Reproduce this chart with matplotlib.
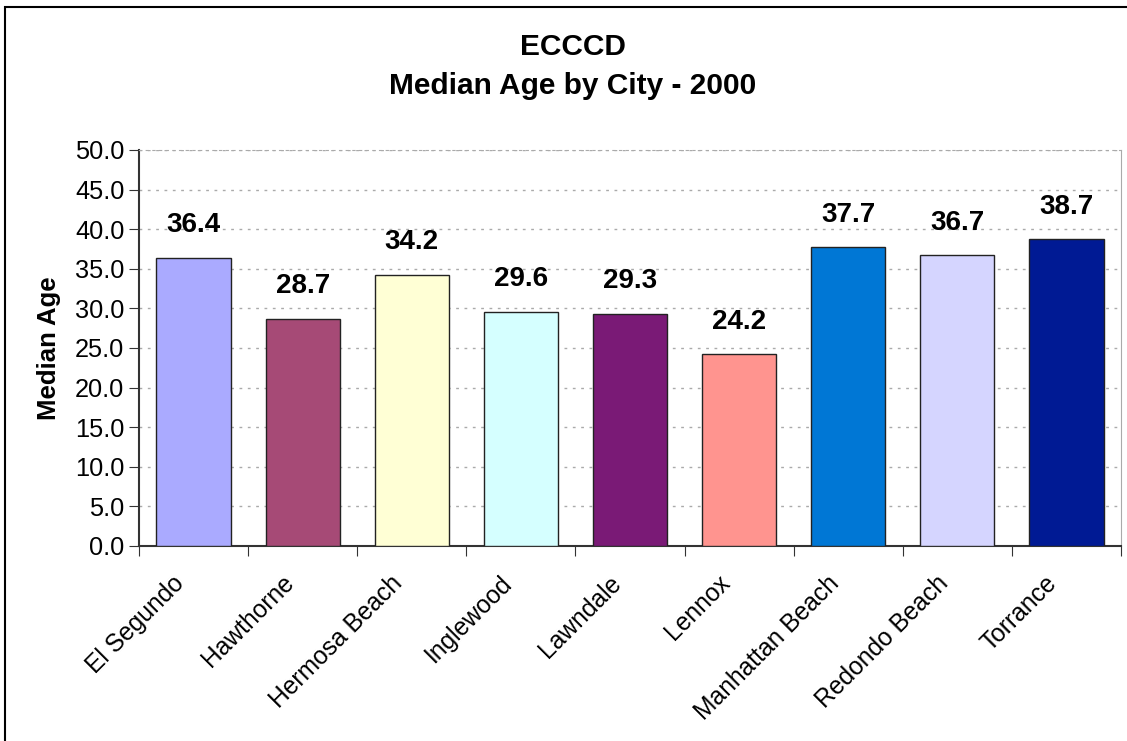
import matplotlib
matplotlib.use('Agg')
import matplotlib.pyplot as plt
from matplotlib.patches import Rectangle
from matplotlib.transforms import ScaledTranslation

cities = ['El Segundo', 'Hawthorne', 'Hermosa Beach', 'Inglewood', 'Lawndale',
          'Lennox', 'Manhattan Beach', 'Redondo Beach', 'Torrance']
median_age = [36.4, 28.7, 34.2, 29.6, 29.3, 24.2, 37.7, 36.7, 38.7]
bar_colors = ['#AAAAFF', '#A64A76', '#FFFFD5', '#D5FFFF', '#7A1A76',
              '#FF948F', '#0077D5', '#D5D5FF', '#001A94']
y_ticks = [0, 5, 10, 15, 20, 25, 30, 35, 40, 45, 50]

plt.rcParams['font.family'] = ['Liberation Sans', 'DejaVu Sans']

fig = plt.figure(figsize=(11.27, 7.41), dpi=100)
ax = fig.add_axes([0.1233, 0.2632, 0.8714, 0.5344])

# рамка вокруг всей диаграммы
fig.patches.append(Rectangle((5 / 1127, -0.05), 1.1, 1 - 7 / 741 + 0.05,
                             transform=fig.transFigure, fill=False,
                             edgecolor='black', linewidth=1.5))

x = range(len(cities))
bars = ax.bar(x, median_age, width=0.68, color=bar_colors,
              edgecolor='#222222', linewidth=1.0, zorder=3)

for xi, v in zip(x, median_age):
    ax.text(xi, v + 2.5, f'{v:.1f}', ha='center', va='bottom',
            fontsize=20, fontweight='bold', zorder=4)

ax.set_xlim(-0.5, len(cities) - 0.5)
ax.set_ylim(0, 50)
ax.set_yticks(y_ticks)
ax.set_yticklabels([f'{t:.1f}' for t in y_ticks], fontsize=18.3)
ax.yaxis.grid(True, linestyle=(0, (2, 4)), color='#AAAAAA', linewidth=1.0, zorder=0)

# деления по оси X между столбцами, подписи по центрам
ax.set_xticks([i + 0.5 for i in range(-1, len(cities))], minor=False)
ax.set_xticklabels([])
ax.set_xticks(list(x), minor=True)
ax.set_xticklabels(cities, minor=True, rotation=45, ha='right', va='center',
                   rotation_mode='anchor', fontsize=17.7)
ax.tick_params(axis='x', which='minor', length=0, pad=24)
ax.tick_params(axis='x', which='major', length=7, direction='out', color='#333333')
ax.tick_params(axis='y', length=7, direction='out', color='#333333')
shift = ScaledTranslation(-13 / 100, 0, fig.dpi_scale_trans)
for lbl in ax.get_xticklabels(minor=True):
    lbl.set_transform(lbl.get_transform() + shift)

for side in ['top', 'right']:
    ax.spines[side].set_color('#AAAAAA')
ax.spines['top'].set_linestyle((0, (2, 4)))
ax.spines['left'].set_color('#333333')
ax.spines['bottom'].set_color('#333333')
ax.spines['left'].set_linewidth(1.5)
ax.spines['bottom'].set_linewidth(1.5)

ax.set_ylabel('Median Age', fontsize=18.5, fontweight='bold', labelpad=10)
fig.text(573 / 1127, 1 - 47 / 741, 'ECCCD', ha='center', va='center',
         fontsize=21.5, fontweight='bold')
fig.text(573 / 1127, 1 - 86 / 741, 'Median Age by City - 2000', ha='center', va='center',
         fontsize=21.5, fontweight='bold')

plt.savefig('out.png', dpi=100)
